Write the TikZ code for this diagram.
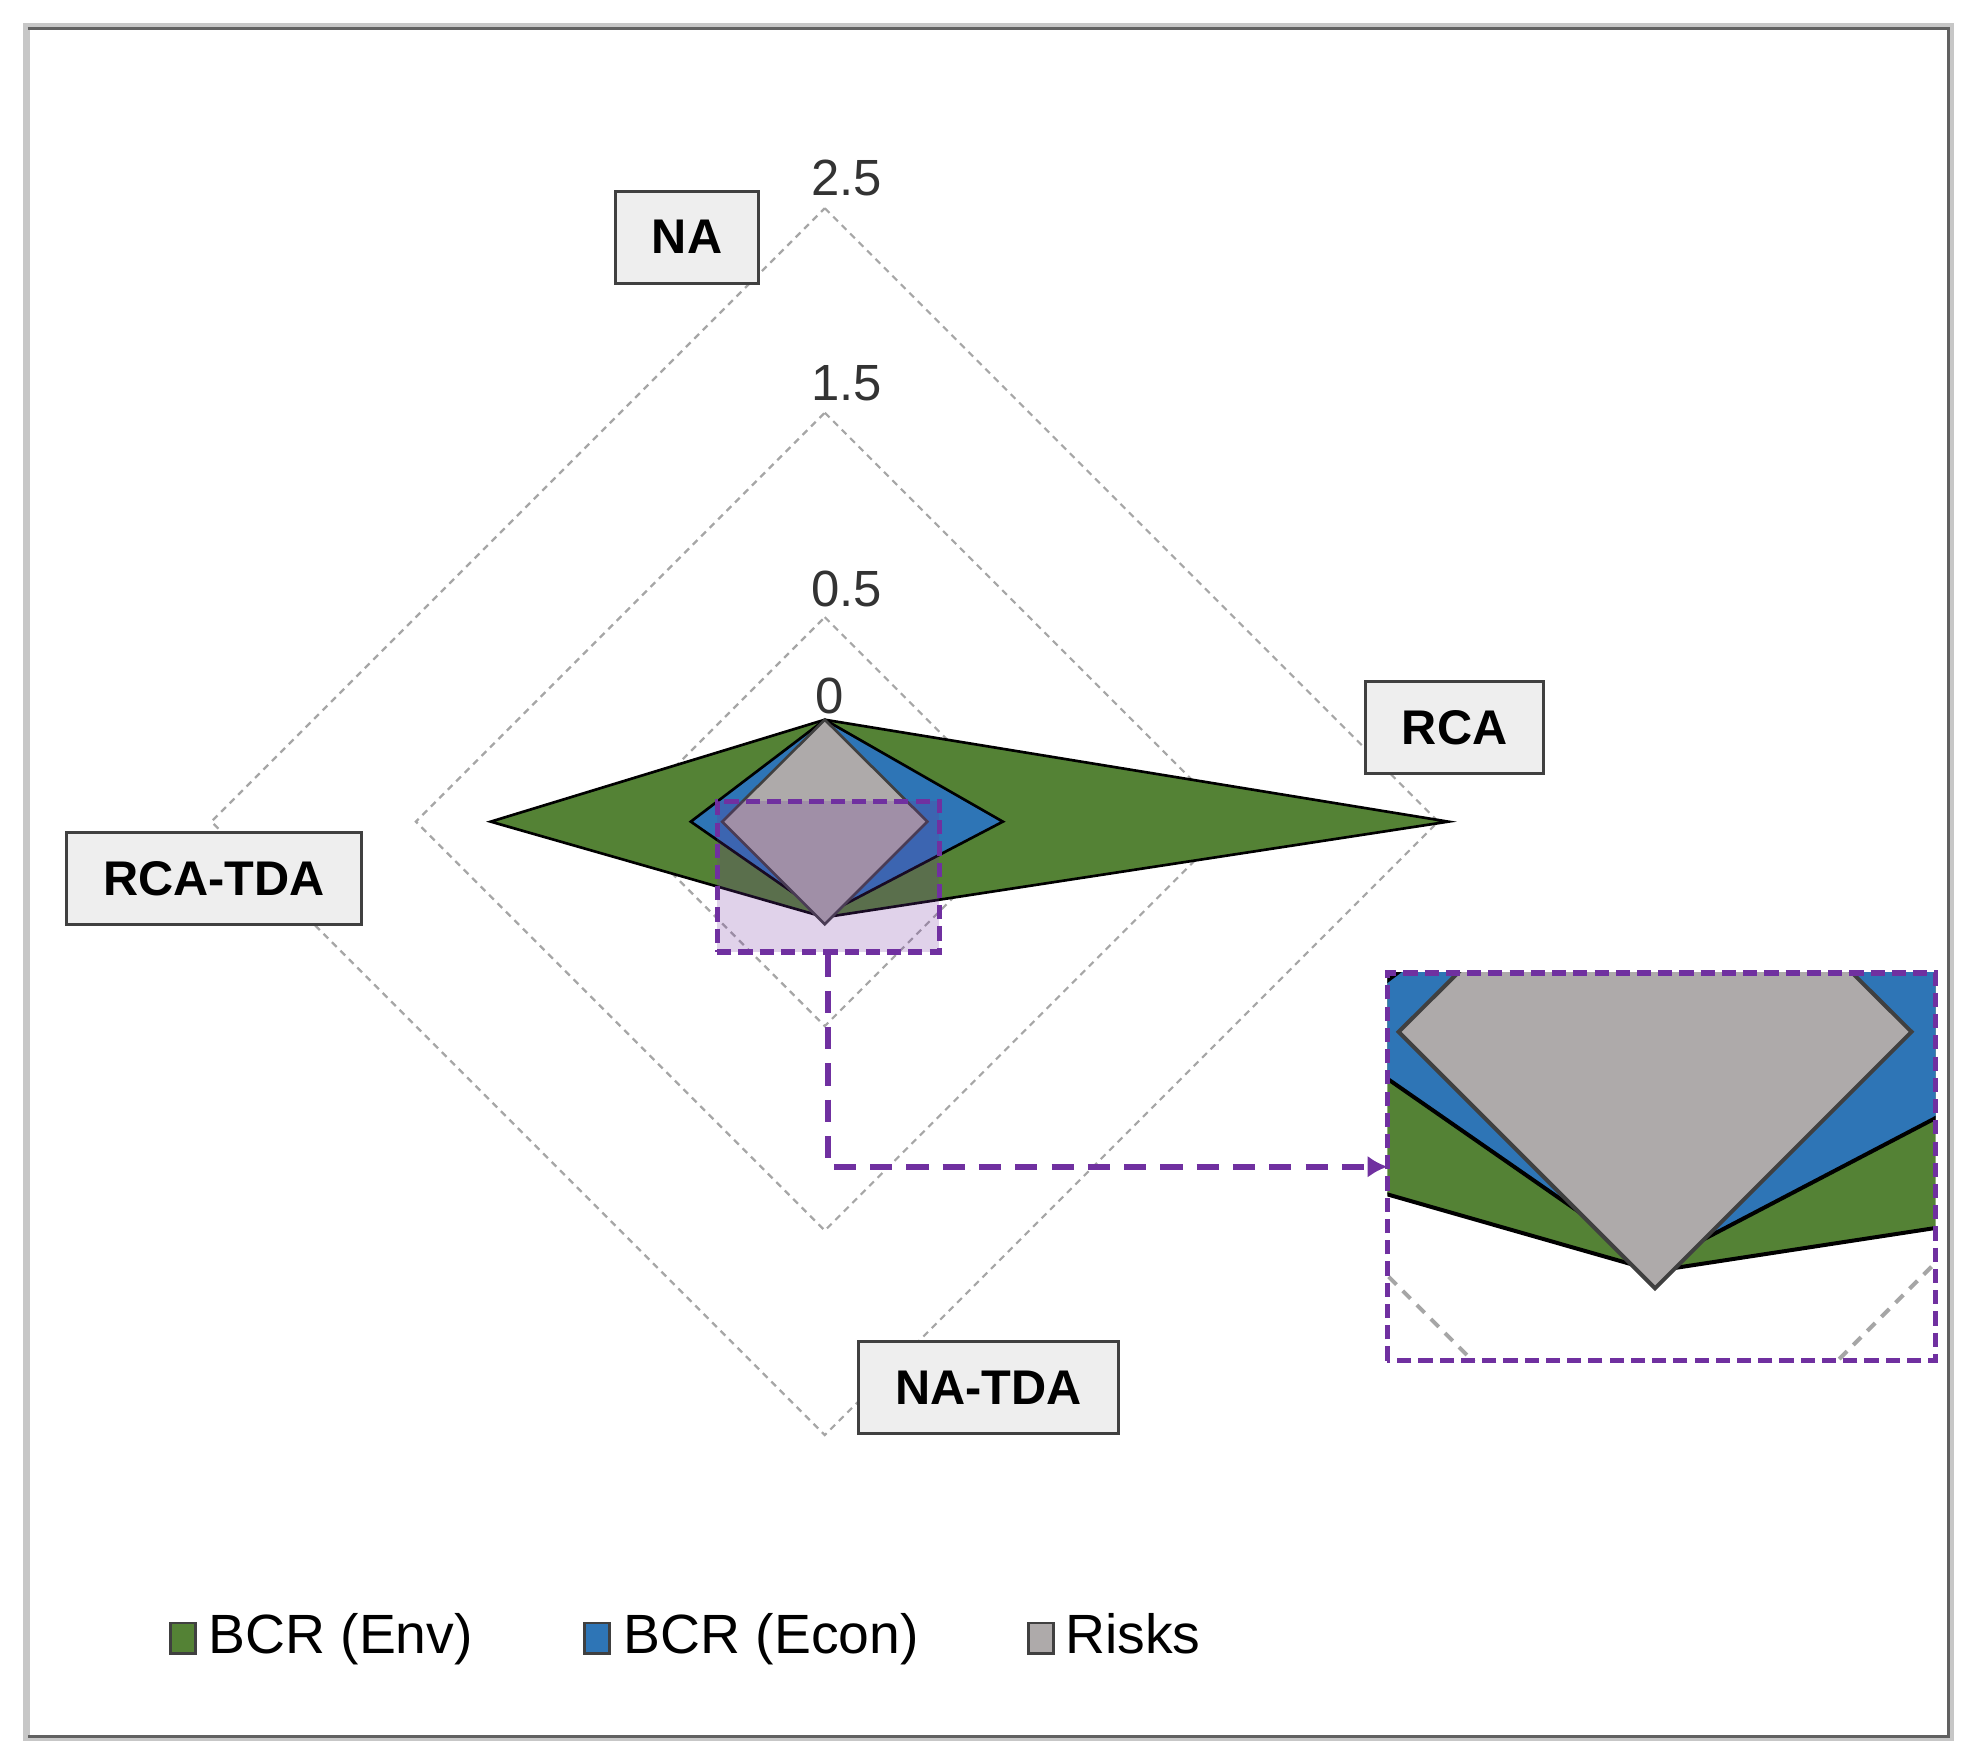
\documentclass[tikz,border=0pt]{standalone}
\usepackage{fontspec}
\setmainfont{Liberation Sans}
\usetikzlibrary{arrows.meta}
\definecolor{envgreen}{HTML}{548235}
\definecolor{econblue}{HTML}{2E75B6}
\definecolor{riskgray}{HTML}{AEAAAA}
\definecolor{zoompurple}{HTML}{7030A0}
\definecolor{boxfill}{HTML}{EEEEEE}
\definecolor{gridgray}{HTML}{A6A6A6}
\tikzstyle{axisbox} = [rectangle, draw=black!75, fill=boxfill, line width=0.7pt, font=\fontsize{11}{13}\selectfont\bfseries, inner xsep=0.29cm, minimum height=0.73cm]
\tikzstyle{ticklabel} = [font=\fontsize{11.5}{13}\selectfont, text=black!80, anchor=base, inner sep=0pt]
\tikzstyle{gridline} = [draw=gridgray, line width=0.5pt, dash pattern=on 1.5pt off 1.2pt]
\tikzstyle{gridbig} = [draw=gridgray, line width=0.9pt, dash pattern=on 2.5pt off 2pt]
\tikzstyle{envpoly} = [fill=envgreen, draw=black]
\tikzstyle{econpoly} = [fill=econblue, draw=black]
\tikzstyle{riskpoly} = [fill=riskgray, draw=black!75]
\tikzstyle{zoomline} = [draw=zoompurple, line width=1.4pt, dash pattern=on 5pt off 3.2pt]
\tikzstyle{zoombox} = [draw=zoompurple, line width=1.2pt, dash pattern=on 3.2pt off 1.6pt]
\tikzstyle{legkey} = [rectangle, draw=black!75, line width=0.6pt, minimum width=0.2cm, minimum height=0.24cm, inner sep=0pt]
\tikzstyle{legtext} = [font=\fontsize{12.5}{15}\selectfont, anchor=base west, inner sep=0pt]

% grid and the three series, drawn twice (chart and zoom)
\newcommand{\radarbody}[1]{%
  \foreach \rad in {162.5,325,487.5}
    \draw[#1] (655.5,{653-\rad}) -- ({655.5+\rad},653) -- (655.5,{653+\rad}) -- ({655.5-\rad},653) -- cycle;
  \filldraw[envpoly] (655.5,572) -- (1151,653) -- (655.5,729) -- (390,653) -- cycle;
  \filldraw[econpoly] (655.5,572) -- (797,653) -- (655.5,727) -- (549,653) -- cycle;
  \filldraw[riskpoly] (655.5,572) -- (737,653) -- (655.5,734.5) -- (574,653) -- cycle;
}

\begin{document}
\begin{tikzpicture}[x=0.01cm, y=-0.01cm]
    \useasboundingbox (0,0) rectangle (1568,1401);
    \draw[black!22, line width=0.05cm] (21,21) rectangle (1550,1381);
    \draw[black!62, line width=0.025cm] (22,22.5) -- (1548.5,22.5) -- (1548.5,1380) -- (22,1380);
    \begin{scope}[line width=0.6pt]
        \radarbody{gridline}
    \end{scope}
    \node[ticklabel] (t25) at (673,155.5) {2.5};
    \node[ticklabel] (t15) at (673,318) {1.5};
    \node[ticklabel] (t05) at (673,482) {0.5};
    \node[ticklabel] (t0) at (659,567) {0};
    \node[axisbox] (na) at (546,188.5) {NA};
    \node[axisbox] (rca) at (1156,578) {RCA};
    \node[axisbox] (rcatda) at (170,698) {RCA-TDA};
    \node[axisbox] (natda) at (785.5,1103) {NA-TDA};
    % zoom window and its enlargement
    \node[zoombox, fill=zoompurple, fill opacity=0.22, minimum width=1.765cm, minimum height=1.195cm, inner sep=0pt] (src) at (658.25,696.75) {};
    \node[minimum width=4.34cm, minimum height=3.065cm, inner sep=0pt] (inset) at (1320.5,927.25) {};
    \begin{scope}
        \clip (inset.south west) rectangle (inset.north east);
        \begin{scope}[x=0.025cm, y=-0.025cm, xshift=-3.2375cm, yshift=8.125cm, line width=0.9pt]
            \radarbody{gridbig}
        \end{scope}
    \end{scope}
    \draw[zoombox] (inset.south west) rectangle (inset.north east);
    \draw[zoomline, -{Latex[length=4.5pt,width=5pt]}] (src.south) |- (inset.west);
    % legend
    \node[legkey, fill=envgreen] (envkey) at (145.5,1302) {};
    \node[legtext] (envtxt) at (165,1314) {BCR (Env)};
    \node[legkey, fill=econblue] (econkey) at (474.5,1302) {};
    \node[legtext] (econtxt) at (495,1314) {BCR (Econ)};
    \node[legkey, fill=riskgray] (riskkey) at (827.5,1302) {};
    \node[legtext] (risktxt) at (846,1314) {Risks};
\end{tikzpicture}
\end{document}
